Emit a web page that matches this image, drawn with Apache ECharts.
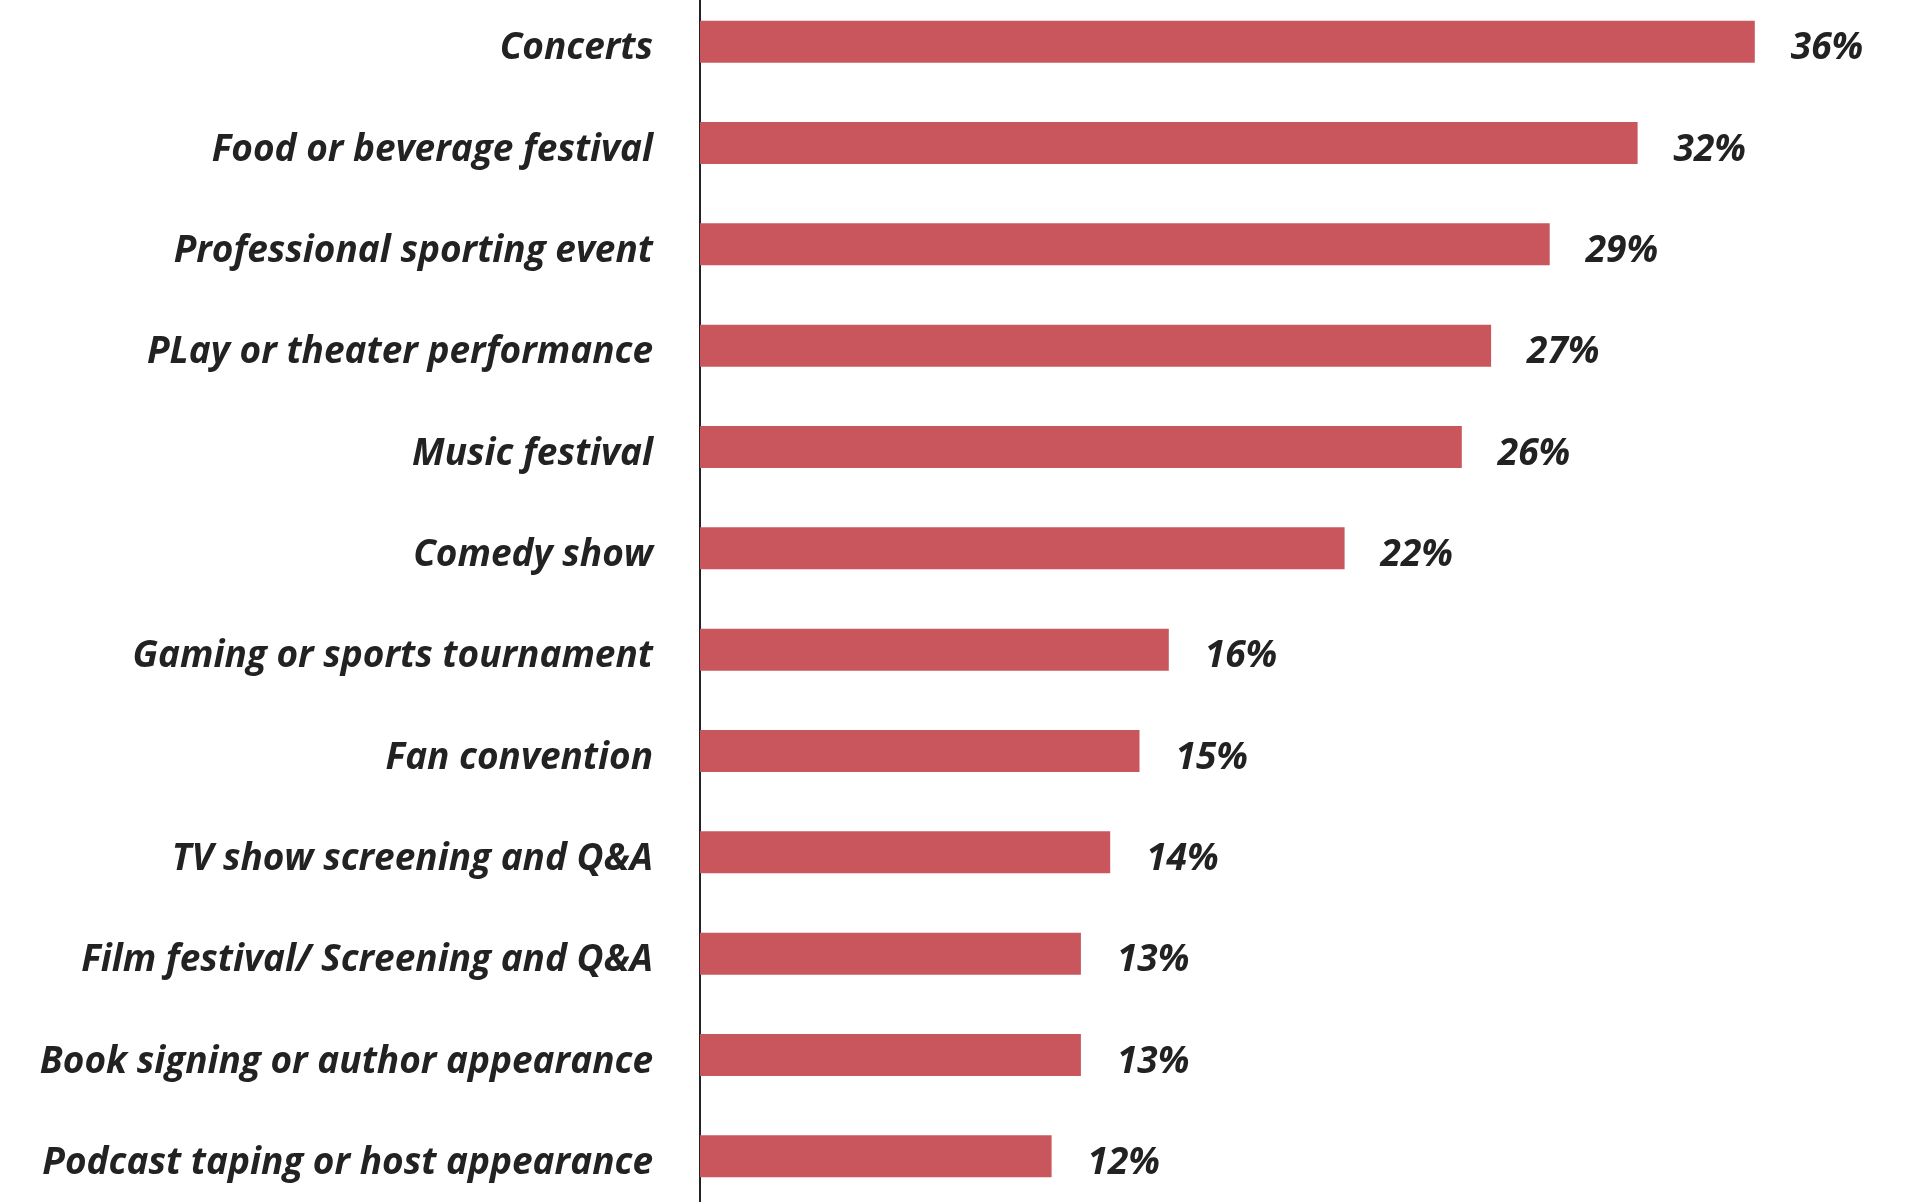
<!DOCTYPE html>
<html><head><meta charset="utf-8">
<script src="https://cdn.jsdelivr.net/npm/echarts@6/dist/echarts.min.js"></script>
<style>html,body{margin:0;padding:0;background:#fff;overflow:hidden}#c{width:1911px;height:1216px;margin-top:-9px}</style>
</head><body><div id="c"></div>
<script>
const categories = ["Concerts","Food or beverage festival","Professional sporting event","PLay or theater performance","Music festival","Comedy show","Gaming or sports tournament","Fan convention","TV show screening and Q&A","Film festival/ Screening and Q&A","Book signing or author appearance","Podcast taping or host appearance"];
const values = [36,32,29,27,26,22,16,15,14,13,13,12];

const chart = echarts.init(document.getElementById('c'), null, {renderer:'canvas'});
const font = {fontFamily:"'Open Sans'", fontStyle:'italic', fontWeight:'bold', fontSize:37, color:'#222222'};
chart.setOption({
  animation:false,
  grid:{left:700, width:1172, top:0, bottom:0, containLabel:false},
  xAxis:{type:'value', min:0, max:40, show:false},
  yAxis:{type:'category', data:categories, inverse:true,
    axisLine:{show:true, lineStyle:{color:'#222', width:2}},
    axisTick:{show:false},
    axisLabel:Object.assign({margin:47, formatter: v => '{t|' + v + '}',
      rich:{t:Object.assign({padding:[14,0,0,0]}, font)}}, font)},
  series:[{type:'bar', data:values, barWidth:42,
    itemStyle:{color:'#C9565D'},
    label:Object.assign({show:true, position:'right', distance:36, offset:[0,7], formatter:'{c}%'}, font)}]
});
</script></body></html>
